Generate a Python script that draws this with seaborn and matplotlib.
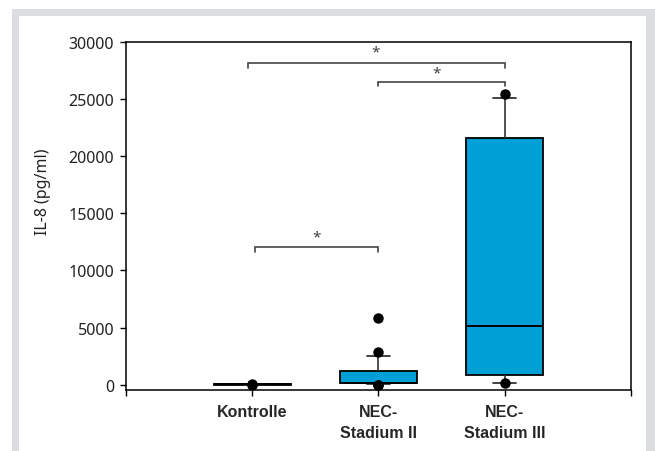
import numpy as np
import pandas as pd
import matplotlib
matplotlib.use("Agg")
import matplotlib.pyplot as plt
from matplotlib.patches import Rectangle
import seaborn as sns

# ==============================================================
# DATA
# ==============================================================

groups = ["Kontrolle", "NEC-\nStadium II", "NEC-\nStadium III"]

kontrolle = [10, 20, 30, 35, 40, 45, 50, 55, 60, 80, 100]
nec_2 = [0, 10, 60, 80, 120, 150, 160, 170, 180, 190, 200,
         300, 500, 800, 1000, 1220, 1500, 2000, 2560, 2860, 5850]
nec_3 = [150, 180, 600, 1200, 3000, 5180, 12000, 20000, 23200, 25100, 25400]

# significance brackets: (x start, x end), height, tick drop, star position
bracket_x = [(-0.03, 2.0), (1.0, 2.0), (0.02, 1.0)]
bracket_y = [28150, 26490, 12080]
bracket_drop = [490, 400, 490]
star_x = [0.98, 1.46, 0.51]
star_y = [29050, 27250, 12930]

y_ticks = [0, 5000, 10000, 15000, 20000, 25000, 30000]

df = pd.DataFrame({
    "group": [groups[0]] * len(kontrolle) + [groups[1]] * len(nec_2) + [groups[2]] * len(nec_3),
    "value": kontrolle + nec_2 + nec_3,
})

# ==============================================================
# PLOT
# ==============================================================

sns.set_style("ticks")
plt.rcParams["font.family"] = ["Noto Sans", "DejaVu Sans"]

fig = plt.figure(figsize=(6.55, 4.52), dpi=100)

# grey frame around the figure
fig.patches.append(Rectangle((12 / 655, 0), 643 / 655, 442 / 452, transform=fig.transFigure,
                             facecolor="#dcdde0", edgecolor="none", zorder=-10))
fig.patches.append(Rectangle((19 / 655, 0), 627 / 655, 435 / 452, transform=fig.transFigure,
                             facecolor="white", edgecolor="none", zorder=-9))

ax = fig.add_axes([126 / 655, 1 - 391 / 452, 505 / 655, (391 - 42.5) / 452])
ax.set_facecolor("none")

sns.boxplot(
    data=df, x="group", y="value", order=groups, ax=ax,
    whis=(10, 90), width=0.61, color="#00A0D6", saturation=1,
    linecolor="black", linewidth=1.3, capwidths=0.18,
    fliersize=6.5,
    flierprops=dict(marker="o", markerfacecolor="black", markeredgecolor="black"),
    whiskerprops=dict(color="#333333", linewidth=1.2),
    capprops=dict(color="#222222", linewidth=1.2),
    medianprops=dict(color="black", linewidth=1.4),
)

# significance brackets
for (x0, x1), y, d in zip(bracket_x, bracket_y, bracket_drop):
    ax.plot([x0, x0, x1, x1], [y - d, y, y, y - d], color="#444444", lw=1.2,
            solid_joinstyle="miter", clip_on=False)
for x, y in zip(star_x, star_y):
    ax.text(x, y, "*", ha="center", va="center", fontsize=11, color="#444444")

ax.set_xlim(-1, 3)
ax.set_ylim(-440, 30000)
ax.set_xticks([-1, 0, 1, 2, 3])
ax.set_xticklabels([""] + groups + [""], fontweight="bold", fontsize=11.5,
                   family=["Liberation Sans", "DejaVu Sans"], linespacing=1.55)
ax.set_yticks(y_ticks)
ax.set_yticklabels([str(t) for t in y_ticks], fontsize=11.5, color="#222222")
ax.set_xlabel("")
ax.set_ylabel("IL-8 (pg/ml)", fontsize=11.5, color="#222222")
ax.yaxis.set_label_coords(-0.148, 0.571)

for s in ax.spines.values():
    s.set_visible(True)
    s.set_linewidth(1.1)
    s.set_color("black")
ax.tick_params(axis="both", direction="out", width=1.0, color="black")
ax.tick_params(axis="x", length=4, pad=6)
ax.tick_params(axis="y", length=4.5, pad=4)

plt.savefig("out.png", dpi=100)
